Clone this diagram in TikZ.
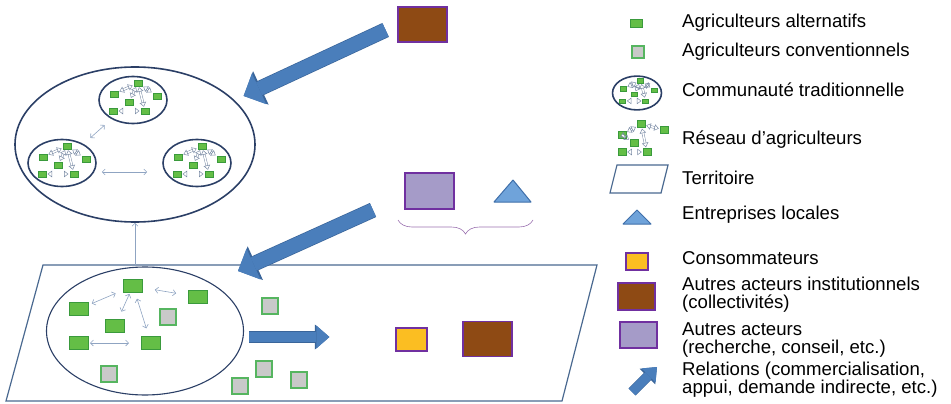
\documentclass[tikz,border=0pt]{standalone}
\usepackage{fontspec}
\setmainfont{Liberation Sans}
\usetikzlibrary{shapes.geometric,arrows.meta,decorations.pathreplacing,calc}

\definecolor{navy}{HTML}{2B3F66}
\definecolor{terrline}{HTML}{4A6990}
\definecolor{linkblue}{HTML}{8FA4C2}
\definecolor{altfill}{HTML}{64BE46}
\definecolor{altrim}{HTML}{3A9A3C}
\definecolor{convfill}{HTML}{C9C9C9}
\definecolor{convrim}{HTML}{56B560}
\definecolor{relfill}{HTML}{4A7EBB}
\definecolor{reldark}{HTML}{3A659A}
\definecolor{brownfill}{HTML}{8E4A14}
\definecolor{rim}{HTML}{7030A0}
\definecolor{lilac}{HTML}{A59BC8}
\definecolor{amber}{HTML}{FBBE22}
\definecolor{trifill}{HTML}{6FA3DA}
\definecolor{tridraw}{HTML}{3F6FAA}
\definecolor{bracecol}{HTML}{9B72B0}

\tikzset{
  alt/.style={draw=altrim, fill=altfill, line width=0.5pt, inner sep=0pt, minimum width=8.5pt, minimum height=6pt},
  conv/.style={draw=convrim, fill=convfill, line width=1.2pt, inner sep=0pt, minimum size=16pt},
  ring/.style={ellipse, draw=navy, line width=1.6pt, inner sep=0pt, minimum width=68pt, minimum height=47pt},
  link/.style={draw=linkblue, line width=0.6pt, <->, >={Straight Barb[length=3pt,width=6pt]}},
  hollow/.style={draw=linkblue!85!black, line width=0.5pt, double=white, double distance=1.5pt, <->,
    >={Triangle[open,length=4.5pt,width=6.5pt]}, shorten <=1pt, shorten >=1pt},
  actor/.style={draw=rim, line width=1.2pt, inner sep=0pt},
  inst/.style={actor, fill=brownfill, minimum width=49pt, minimum height=35pt},
  other/.style={actor, fill=lilac, minimum width=49pt, minimum height=36pt},
  cons/.style={actor, fill=amber, minimum width=31pt, minimum height=23pt},
  firm/.style={draw=tridraw, fill=trifill, line width=1pt, line join=round},
  territory/.style={draw=terrline, line width=1.2pt},
  bigrel/.style={draw=relfill, line width=14pt, -{Triangle[width=34pt,length=17pt,line width=0pt]},
    preaction={draw=reldark, line width=15.4pt, -{Triangle[width=37pt,length=19pt,line width=0pt]}}},
  midrel/.style={draw=relfill, line width=10pt, -{Triangle[width=23pt,length=13pt,line width=0pt]},
    preaction={draw=reldark, line width=11.2pt, -{Triangle[width=25pt,length=14.5pt,line width=0pt]}}},
  keyrel/.style={draw=relfill, line width=9pt, -{Triangle[width=20pt,length=12pt,line width=0pt]},
    preaction={draw=reldark, line width=10.2pt, -{Triangle[width=22pt,length=13.5pt,line width=0pt]}}},
  key/.style={anchor=west, align=left, inner sep=0pt, font=\fontsize{18.6}{18}\selectfont},
  community/.pic={
    \node[ring] (-ring) at (0,0) {};
    \node[alt] (-a1) at (5,-17) {};
    \node[alt] (-a2) at (-19,-6) {};
    \node[alt] (-a3) at (24,-4) {};
    \node[alt] (-a4) at (-4,2) {};
    \node[alt] (-a5) at (-20,11) {};
    \node[alt] (-a6) at (12,11) {};
    \foreach \u/\v in {a2/a1, a1/a3, a4/a1, a1/a6, a5/a6}
      \draw[hollow] (-\u) -- (-\v);
  }
}

\begin{document}
\begin{tikzpicture}[x=1pt,y=-1pt]
  \useasboundingbox (0,0) rectangle (951,404);

  % Communauté (haut)
  \node[ellipse, draw=navy, line width=1.6pt, inner sep=0pt, minimum width=240pt, minimum height=155pt] (comm) at (135,144.5) {};
  \pic (ctop) at (133,100) {community};
  \pic (cleft) at (62,163) {community};
  \pic (cright) at (197,163) {community};
  \draw[link, shorten <=9pt, shorten >=9pt] (cleft-ring) -- (ctop-ring);
  \draw[link, shorten <=5pt, shorten >=15pt] ([yshift=-9pt]cleft-ring.east) -- ([yshift=-9pt]cright-ring.west);

  % Territoire
  \draw[territory] (43,265) -- (597,265) -- (562,401) -- (6,401) -- cycle;
  \coordinate (terr-top) at (135,265);
  \draw[link, <-] (comm.south) -- (terr-top);
  \node[ellipse, draw=navy, line width=1.1pt, inner sep=0pt, minimum width=197pt, minimum height=128pt] (net) at (145,331) {};

  % Agriculteurs alternatifs
  \foreach \n/\p in {f1/{(133,286)}, f2/{(79,309)}, f3/{(198,297)}, f4/{(115,326)}, f5/{(79,343)}, f6/{(151,343)}}
    \node[alt, line width=1pt, minimum width=19pt, minimum height=13pt] (\n) at \p {};
  % Agriculteurs conventionnels
  \foreach \n/\p in {c1/{(168,317)}, c2/{(109,374)}, c3/{(270,306)}, c4/{(264,369)}, c5/{(240,386)}, c6/{(299,380)}}
    \node[conv] (\n) at \p {};
  \draw[link, shorten <=3pt, shorten >=8pt] (f2) -- (f1);
  \draw[link, shorten <=12pt, shorten >=12pt] (f1) -- (f3);
  \draw[link, shorten <=1pt, shorten >=8pt] (f1) -- (f4);
  \draw[link, shorten <=6pt, shorten >=8pt] (f1) -- (f6);
  \draw[link, shorten <=1pt, shorten >=12pt] (f5) -- (f6);

  % Autres acteurs
  \node[inst] (inst-top) at (422.5,24.5) {};
  \node[other] (other) at (429.5,191) {};
  \draw[firm] (494,202) -- (531,202) -- (513,180) -- cycle;
  \draw[bracecol, line width=0.6pt, decorate, decoration={brace, mirror, amplitude=14pt}] (398,220) -- (533,220);
  \node[cons] (cons) at (411.5,339.5) {};
  \node[inst] (inst-bot) at (487.5,339) {};

  % Relations
  \draw[bigrel, shorten <=13pt, shorten >=10pt] (inst-top.west) -- (comm.24);
  \coordinate (grp) at (373,210);
  \coordinate (terr-in) at (238,271);
  \draw[bigrel] (grp) -- (terr-in);
  \coordinate (net-out) at (249,337);
  \draw[midrel, shorten >=66pt] (net-out) -- (net-out -| cons.west);

  % Légende
  \node[alt, minimum width=12pt, minimum height=8pt] (key-alt) at (636,23) {};
  \node[conv, minimum size=12pt] (key-conv) at (638,52) {};
  \begin{scope}[shift={(637,93)}, scale=0.72, transform shape]
    \pic (key-comm) {community};
  \end{scope}
  \foreach \n/\p in {n1/{(641,124)}, n2/{(622,135)}, n3/{(664,130)}, n4/{(634,143)}, n5/{(622,152)}, n6/{(647,152)}}
    \node[alt, minimum width=8pt, minimum height=7pt] (\n) at \p {};
  \foreach \u/\v in {n2/n1, n1/n3, n1/n6, n2/n4, n5/n6}
    \draw[hollow, shorten <=1pt, shorten >=1pt] (\u) -- (\v);
  \draw[territory] (617,165) -- (668,165) -- (661,193) -- (610,193) -- cycle;
  \draw[firm] (623,224) -- (651,224) -- (637,210) -- cycle;
  \node[cons, minimum width=22pt, minimum height=17pt] (key-cons) at (637,261.5) {};
  \node[inst, minimum width=37pt, minimum height=27pt] (key-inst) at (636.5,296.5) {};
  \node[other, minimum width=37pt, minimum height=26pt] (key-other) at (638.5,335) {};
  \coordinate (key-rel-a) at (632,392);
  \coordinate (key-rel-b) at (657,367);
  \draw[keyrel] (key-rel-a) -- (key-rel-b);

  \node[key] (t-alt) at (682,23) {Agriculteurs alternatifs};
  \node[key] (t-conv) at (682,52) {Agriculteurs conventionnels};
  \node[key] (t-comm) at (682,90) {Communauté traditionnelle};
  \node[key] (t-net) at (682,140) {Réseau d’agriculteurs};
  \node[key] (t-terr) at (682,178) {Territoire};
  \node[key] (t-firm) at (682,215) {Entreprises locales};
  \node[key] (t-cons) at (682,258) {Consommateurs};
  \node[key] (t-inst) at (682,295) {Autres acteurs institutionnels\\(collectivités)};
  \node[key] (t-other) at (682,340) {Autres acteurs\\(recherche, conseil, etc.)};
  \node[key] (t-rel) at (682,380) {Relations (commercialisation,\\appui, demande indirecte, etc.)};
\end{tikzpicture}
\end{document}
